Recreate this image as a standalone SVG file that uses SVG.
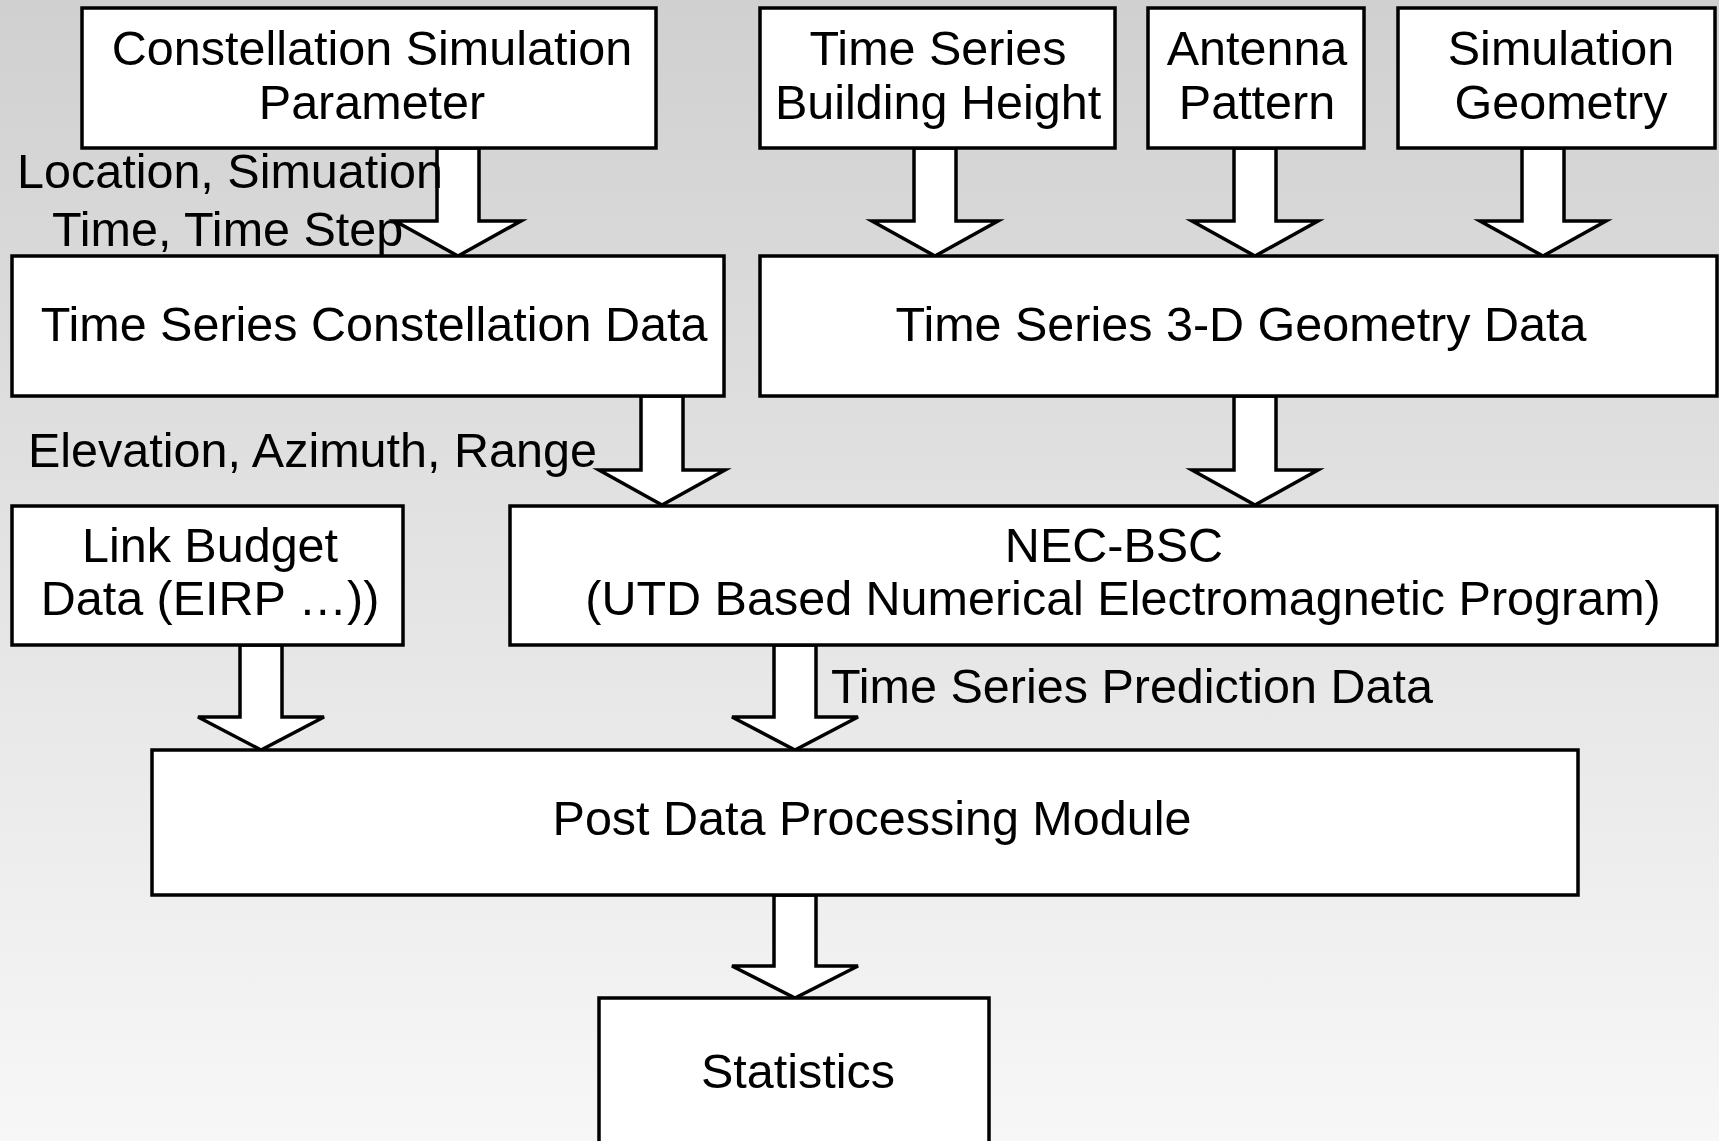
<svg xmlns="http://www.w3.org/2000/svg" width="1719" height="1141" viewBox="0 0 1719 1141">
<defs>
<linearGradient id="bg" x1="0" y1="0" x2="0" y2="1">
<stop offset="0" stop-color="#d0d0d0"/>
<stop offset="1" stop-color="#f7f7f7"/>
</linearGradient>
<style>
.box{fill:#fff;stroke:#000;stroke-width:3.5}
.arr{fill:#fff;stroke:#000;stroke-width:3.5;stroke-linejoin:miter}
text{font-family:"Liberation Sans",Arial,Helvetica,sans-serif;font-size:48.5px;fill:#000}
.c{text-anchor:middle}
</style>
</defs>
<rect x="0" y="0" width="1719" height="1141" fill="url(#bg)"/>
<g id="connectors">
<polygon class="arr" points="437,148 437,221 395,221 458,256 521,221 479,221 479,148"/>
<polygon class="arr" points="914,148 914,221 872,221 935,256 998,221 956,221 956,148"/>
<polygon class="arr" points="1234,148 1234,221 1192,221 1255,256 1318,221 1276,221 1276,148"/>
<polygon class="arr" points="1522,148 1522,221 1480,221 1543,256 1606,221 1564,221 1564,148"/>
<polygon class="arr" points="641,396 641,470 599,470 662,505 725,470 683,470 683,396"/>
<polygon class="arr" points="1234,396 1234,470 1192,470 1255,505 1318,470 1276,470 1276,396"/>
<polygon class="arr" points="240,645 240,717 198,717 261,750 324,717 282,717 282,645"/>
<polygon class="arr" points="774,645 774,717 732,717 795,750 858,717 816,717 816,645"/>
<polygon class="arr" points="774,895 774,966 732,966 795,998 858,966 816,966 816,895"/>
</g>
<g id="n1"><rect class="box" x="82" y="8" width="574" height="140"/><text class="c" x="372" y="65">Constellation Simulation</text><text class="c" x="372" y="119">Parameter</text></g>
<g id="n2"><rect class="box" x="760" y="8" width="355" height="140"/><text class="c" x="938" y="65">Time Series</text><text class="c" x="938" y="119">Building Height</text></g>
<g id="n3"><rect class="box" x="1148" y="8" width="216" height="140"/><text class="c" x="1257" y="65">Antenna</text><text class="c" x="1257" y="119">Pattern</text></g>
<g id="n4"><rect class="box" x="1398" y="8" width="317" height="140"/><text class="c" x="1561" y="65">Simulation</text><text class="c" x="1561" y="119">Geometry</text></g>
<g id="n5"><rect class="box" x="12" y="256" width="712" height="140"/><text class="c" x="374" y="341">Time Series Constellation Data</text></g>
<g id="n6"><rect class="box" x="760" y="256" width="957" height="140"/><text class="c" x="1241" y="341">Time Series 3-D Geometry Data</text></g>
<g id="n7"><rect class="box" x="12" y="506" width="391" height="139"/><text class="c" x="210" y="562">Link Budget</text><text class="c" x="210" y="615">Data (EIRP …))</text></g>
<g id="n8"><rect class="box" x="510" y="506" width="1207" height="139"/><text class="c" x="1114" y="562">NEC-BSC</text><text class="c" x="1123" y="615">(UTD Based Numerical Electromagnetic Program)</text></g>
<g id="n9"><rect class="box" x="152" y="750" width="1426" height="145"/><text class="c" x="872" y="835">Post Data Processing Module</text></g>
<g id="n10"><rect class="box" x="599" y="998" width="390" height="160"/><text class="c" x="798" y="1088">Statistics</text></g>
<g id="labels">
<text x="17" y="188">Location, Simuation</text>
<text x="52" y="246">Time, Time Step</text>
<text x="28" y="467">Elevation, Azimuth, Range</text>
<text x="831" y="703">Time Series Prediction Data</text>
</g>
</svg>
